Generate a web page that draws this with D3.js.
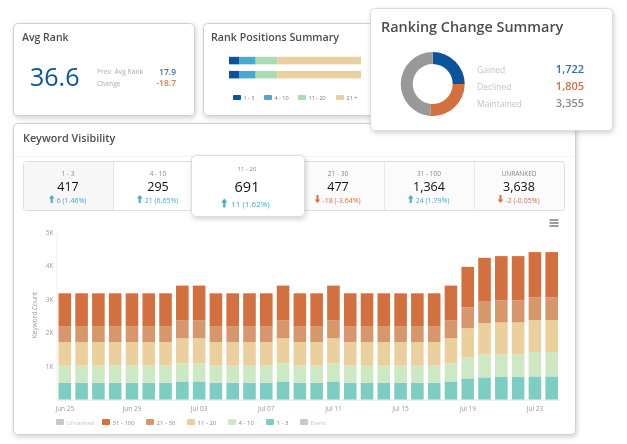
<!DOCTYPE html>
<html>
<head>
<meta charset="utf-8">
<script src="https://cdn.jsdelivr.net/npm/d3@7"></script>
<style>
  html, body { margin: 0; padding: 0; background: #fff; }
  svg { display: block; filter: blur(0.3px); }
  text { font-family: "Open Sans", sans-serif; }
</style>
</head>
<body>
<div class="chart"></div>
<script>
// keyword visibility data
var days = ["Jun 25","Jun 26","Jun 27","Jun 28","Jun 29","Jun 30","Jul 01","Jul 02","Jul 03","Jul 04",
  "Jul 05","Jul 06","Jul 07","Jul 08","Jul 09","Jul 10","Jul 11","Jul 12","Jul 13","Jul 14",
  "Jul 15","Jul 16","Jul 17","Jul 18","Jul 19","Jul 20","Jul 21","Jul 22","Jul 23","Jul 24"];
var rank1to3 = [500,500,500,500,500,500,500,540,540,500,500,500,500,540,500,500,540,500,500,500,500,500,500,540,630,660,670,670,690,690];
var rank4to10 = [510,510,510,510,510,510,510,540,540,510,510,510,510,540,510,510,540,510,510,510,510,510,510,540,630,680,680,680,720,720];
var rank11to20 = [700,700,700,700,700,700,700,750,750,700,700,700,700,750,700,700,750,700,700,700,700,700,700,750,870,940,950,950,960,960];
var rank21to30 = [480,480,480,480,480,480,480,530,530,480,480,480,480,530,480,480,530,480,480,480,480,480,480,530,620,660,660,660,680,680];
var rank31to100 = [980,980,980,980,980,980,980,1040,1040,980,980,980,980,1040,980,980,1040,980,980,980,980,980,980,1040,1210,1290,1320,1320,1350,1350];
var yTicks = [1000, 2000, 3000, 4000, 5000];
var xTicks = ["Jun 25","Jun 29","Jul 03","Jul 07","Jul 11","Jul 15","Jul 19","Jul 23"];

// summary tiles above the chart
var tileLabels = ["1 - 3","4 - 10","11 - 20","21 - 30","31 - 100","UNRANKED"];
var tileValues = ["417","295","691","477","1,364","3,638"];
var tileDeltas = ["6 (1.46%)","21 (6.65%)","11 (1.62%)","-18 (-3.64%)","24 (1.79%)","-2 (-0.05%)"];
var tileUp = [true, true, true, false, true, false];

// rank positions summary
var positionLabels = ["1 - 3","4 - 10","11 - 20","21 +"];
var positionRows = [[7.6, 12.6, 16.4, 63.4], [7.6, 12.6, 16.4, 63.4]];
var positionColors = ["#0b549b","#47a9d2","#aadcb4","#e9d09f"];

// ranking change summary
var changeLabels = ["Gained","Declined","Maintained"];
var changeValues = [1722, 1805, 3355];
var changeColors = ["#0b549b","#d2703f","#999999"];

var svgWidth = 627;
var svgHeight = 444;

var svg = d3
  .select(".chart")
  .append("svg")
  .attr("width", svgWidth)
  .attr("height", svgHeight);

var defs = svg.append("defs");
var shadow = defs.append("filter")
  .attr("id", "shadow")
  .attr("x", "-10%").attr("y", "-10%")
  .attr("width", "120%").attr("height", "125%");
shadow.append("feDropShadow")
  .attr("dx", 1).attr("dy", 2)
  .attr("stdDeviation", 2.5)
  .attr("flood-color", "#000")
  .attr("flood-opacity", 0.18);

function card(x, y, w, h, stroke) {
  return svg.append("rect")
    .attr("x", x).attr("y", y)
    .attr("width", w).attr("height", h)
    .attr("rx", 4)
    .attr("fill", "#fff")
    .attr("stroke", stroke || "#d0d0d0")
    .attr("filter", "url(#shadow)");
}

function label(parent, x, y, str, size, color, anchor, weight) {
  return parent.append("text")
    .attr("x", x).attr("y", y)
    .attr("font-size", size)
    .attr("fill", color)
    .attr("text-anchor", anchor || "start")
    .attr("font-weight", weight || 400)
    .text(str);
}

// ---------- Keyword Visibility card ----------
card(13.5, 123.5, 562, 311);
label(svg, 23, 142, "Keyword Visibility", 10.8, "#4d4d4d", "start", 600);

svg.append("line")
  .attr("x1", 14).attr("x2", 575)
  .attr("y1", 156.5).attr("y2", 156.5)
  .attr("stroke", "#f6f6f6");

var tileLeft = [23, 113, 203, 293, 384, 474, 565];
var tileCenter = [68, 158, 247, 338, 429, 519];

svg.append("rect")
  .attr("x", 23.5).attr("y", 161.5)
  .attr("width", 541).attr("height", 49)
  .attr("rx", 3)
  .attr("fill", "#fbfbfb")
  .attr("stroke", "#dedede");
svg.append("rect")
  .attr("x", 24).attr("y", 162)
  .attr("width", 89).attr("height", 48)
  .attr("fill", "#f7f7f7");
svg.append("rect")
  .attr("x", 113).attr("y", 162)
  .attr("width", 90).attr("height", 48)
  .attr("fill", "#fff");

tileLeft.slice(1, 6).forEach(function(x) {
  svg.append("line")
    .attr("x1", x + 0.5).attr("x2", x + 0.5)
    .attr("y1", 162).attr("y2", 210)
    .attr("stroke", "#e8e8e8");
});

// the hovered tile sits above the row
card(191.5, 155.5, 113, 61, "#dddddd");

function arrow(parent, x, y, up, size, color) {
  var s = size;
  var dir = up ? 1 : -1;
  var pts = [[0, -s * dir], [s * 0.7, -s * 0.1 * dir], [s * 0.25, -s * 0.1 * dir], [s * 0.25, s * dir],
    [-s * 0.25, s * dir], [-s * 0.25, -s * 0.1 * dir], [-s * 0.7, -s * 0.1 * dir]];
  parent.append("path")
    .attr("d", "M" + pts.map(function(p) { return [x + p[0], y + p[1]].join(","); }).join("L") + "Z")
    .attr("fill", color);
}

tileLabels.forEach(function(d, i) {
  var big = i === 2;
  var cx = tileCenter[i];
  var color = tileUp[i] ? "#47a9d2" : "#dc6f45";
  label(svg, cx, big ? 171 : 175.5, d, big ? 6 : 6.5, "#888", "middle");
  label(svg, cx, big ? 192 : 190.5, tileValues[i], big ? 14.5 : 12.5, "#111", "middle");
  var delta = label(svg, cx + 3.5, big ? 206.5 : 202.5, tileDeltas[i], big ? 8 : 7, color, "middle");
  var w = delta.node().getComputedTextLength();
  arrow(svg, cx + 3.5 - w / 2 - (big ? 7 : 5), big ? 203 : 199, tileUp[i], big ? 4.5 : 4, color);
});

// hamburger menu
[220, 223, 226].forEach(function(y) {
  svg.append("line")
    .attr("x1", 549.5).attr("x2", 558.5)
    .attr("y1", y).attr("y2", y)
    .attr("stroke", "#666")
    .attr("stroke-width", 1.3);
});

// ---------- stacked bars ----------
var chartLeft = 56.5;
var chartRight = 560;
var chartTop = 232;
var chartBottom = 399.5;

var xScale = d3.scaleBand()
  .domain(days)
  .range([chartLeft, chartRight])
  .paddingInner(0.25)
  .paddingOuter(0.12);

var yScale = d3.scaleLinear()
  .domain([0, 5000])
  .range([chartBottom, chartTop]);

var seriesKeys = ["1 - 3","4 - 10","11 - 20","21 - 30","31 - 100"];
var seriesValues = [rank1to3, rank4to10, rank11to20, rank21to30, rank31to100];
var seriesColors = ["#7ccec3","#cce9c4","#ebd09e","#d7976c","#d27040"];

var rows = days.map(function(day, i) {
  var row = { day: day };
  seriesKeys.forEach(function(k, j) { row[k] = seriesValues[j][i]; });
  return row;
});

var stacked = d3.stack().keys(seriesKeys)(rows);

var bottomAxis = d3.axisBottom(xScale).tickValues(xTicks).tickSize(0).tickPadding(7);
var leftAxis = d3.axisLeft(yScale).tickValues(yTicks).tickSize(0).tickPadding(3)
  .tickFormat(function(d) { return (d / 1000) + "K"; });

var xAxis = svg.append("g")
  .attr("transform", `translate(0, ${chartBottom})`)
  .call(bottomAxis);
xAxis.select(".domain").attr("stroke", "#e3e3e3");
xAxis.selectAll("text").attr("font-size", 6.5).attr("fill", "#999").style("font-family", "Open Sans");

var yAxis = svg.append("g")
  .attr("transform", `translate(${chartLeft}, 0)`)
  .call(leftAxis);
yAxis.select(".domain").attr("stroke", "#eeeeee");
yAxis.selectAll("text").attr("font-size", 6.5).attr("fill", "#999").style("font-family", "Open Sans");

svg.append("text")
  .attr("transform", "translate(37, 315) rotate(-90)")
  .attr("text-anchor", "middle")
  .attr("font-size", 6.5)
  .attr("fill", "#999")
  .text("Keyword Count");

var barGroups = svg.selectAll(".series")
  .data(stacked)
  .enter()
  .append("g")
  .attr("class", "series")
  .attr("fill", function(d, i) { return seriesColors[i]; });

barGroups.selectAll("rect")
  .data(function(d) { return d; })
  .enter()
  .append("rect")
  .attr("x", function(d) { return xScale(d.data.day); })
  .attr("y", function(d) { return yScale(d[1]); })
  .attr("width", xScale.bandwidth())
  .attr("height", function(d) { return yScale(d[0]) - yScale(d[1]); });

// legend under the chart
var legendNames = ["Unranked","31 - 100","21 - 30","11 - 20","4 - 10","1 - 3","Event"];
var legendX = [56, 102, 146, 187, 228, 266, 300];
var legendColors = ["#c8c8c8","#d27040","#d7976c","#ebd09e","#cce9c4","#7ccec3","#c8c8c8"];
var legendText = ["#c8c8c8","#888","#888","#888","#888","#888","#c8c8c8"];

legendNames.forEach(function(d, i) {
  svg.append("rect")
    .attr("x", legendX[i]).attr("y", 419)
    .attr("width", 8).attr("height", 6)
    .attr("rx", 1)
    .attr("fill", legendColors[i]);
  label(svg, legendX[i] + 10.5, 424.5, d, 6, legendText[i]);
});

// ---------- Avg Rank card ----------
card(13.5, 23.5, 181, 92);
label(svg, 22, 41, "Avg Rank", 10.5, "#4d4d4d", "start", 600);
label(svg, 30, 86, "36.6", 25, "#0b549b");
label(svg, 97, 74, "Prev. Avg Rank", 6.5, "#bdbdbd", "start", 600);
label(svg, 97, 85.5, "Change", 6.5, "#bdbdbd", "start", 600);
label(svg, 176, 74.5, "17.9", 8.5, "#2f75b5", "end", 600);
label(svg, 176, 86, "-18.7", 8.5, "#e07a4f", "end", 600);

// ---------- Rank Positions Summary card ----------
card(203.5, 23.5, 190, 92);
label(svg, 211, 41, "Rank Positions Summary", 10.7, "#4d4d4d", "start", 600);

var posX = d3.scaleLinear().domain([0, 100]).range([229, 361]);
var posY = d3.scaleBand().domain([0, 1]).range([53, 84]).padding(0.2);

positionRows.forEach(function(row, r) {
  var cum = 0;
  row.forEach(function(v, i) {
    svg.append("rect")
      .attr("x", posX(cum))
      .attr("y", posY(r) + 1)
      .attr("width", posX(cum + v) - posX(cum))
      .attr("height", 7.5)
      .attr("fill", positionColors[i]);
    cum += v;
  });
});

var posLegendX = [233, 264, 298, 336];
positionLabels.forEach(function(d, i) {
  svg.append("rect")
    .attr("x", posLegendX[i]).attr("y", 95)
    .attr("width", 8).attr("height", 5)
    .attr("rx", 1)
    .attr("fill", positionColors[i]);
  label(svg, posLegendX[i] + 10.5, 100, d, 5.5, "#777");
});

// ---------- Ranking Change Summary card ----------
card(370.5, 8.5, 242, 122, "#dddddd");
label(svg, 381, 32, "Ranking Change Summary", 14.4, "#4d4d4d", "start", 600);

var pie = d3.pie().sort(null);
var arc = d3.arc().innerRadius(20).outerRadius(32);

svg.append("g")
  .attr("transform", "translate(432.7, 84)")
  .selectAll("path")
  .data(pie(changeValues))
  .enter()
  .append("path")
  .attr("d", arc)
  .attr("fill", function(d, i) { return changeColors[i]; });

var valueFormat = d3.format(",");
var changeY = [73, 90, 106.5];
var valueColors = ["#2f6fae","#d2703f","#888888"];
changeLabels.forEach(function(d, i) {
  label(svg, 477, changeY[i], d, 8.5, "#c4c4c4");
  label(svg, 584, changeY[i], valueFormat(changeValues[i]), 11, valueColors[i], "end", 600);
});
</script>
</body>
</html>
